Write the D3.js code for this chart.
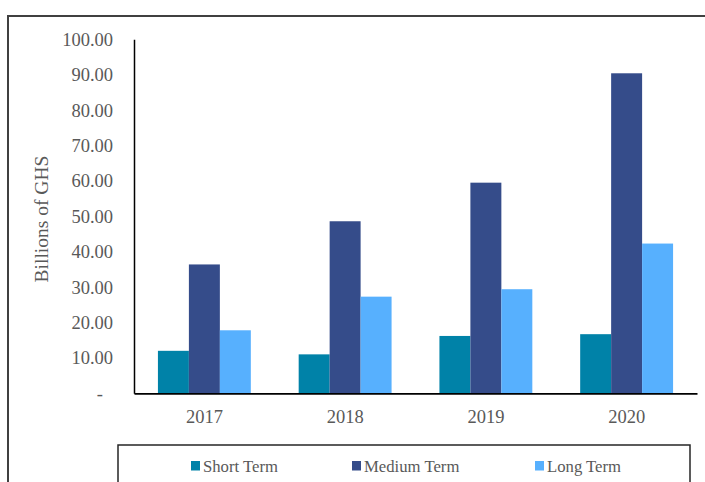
<!DOCTYPE html>
<html><head><meta charset="utf-8">
<script src="https://cdn.jsdelivr.net/npm/d3@7"></script>
<style>body{margin:0;background:#fff;}svg{display:block;}</style>
</head><body>
<svg id="c" width="705" height="482"></svg>
<script>
const categories = ["2017","2018","2019","2020"];
const seriesNames = ["Short Term","Medium Term","Long Term"];
const shortTerm = [12.0, 11.0, 16.2, 16.7];
const mediumTerm = [36.4, 48.6, 59.5, 90.4];
const longTerm = [17.8, 27.3, 29.4, 42.3];
const colors = ["#0082A8","#354C8A","#57B0FE"];
const yTicks = [0,10,20,30,40,50,60,70,80,90,100];

const series = [shortTerm, mediumTerm, longTerm];
const svg = d3.select("#c");
const font = "'Liberation Serif','Times New Roman',serif";
const txt = "#595959";

// outer border
svg.append("path").attr("d","M8,482 L8,16 L705,16").attr("fill","none").attr("stroke","#404040").attr("stroke-width",2);

const x0 = 134, x1 = 697, yTop = 39.3, yBot = 393.3;
const x = d3.scaleBand().domain(categories).range([x0,x1]).paddingInner(0.34).paddingOuter(0.17);
const xs = d3.scaleBand().domain(seriesNames).range([0,x.bandwidth()]);
const y = d3.scaleLinear().domain([0,100]).range([yBot,yTop]);

const g = svg.append("g");
categories.forEach((c,i)=>{
  series.forEach((s,j)=>{
    g.append("rect").attr("x",x(c)+xs(seriesNames[j])).attr("y",y(s[i]))
      .attr("width",xs.bandwidth()).attr("height",yBot-y(s[i])).attr("fill",colors[j]);
  });
});

// y axis
const ya = svg.append("g").attr("transform",`translate(${x0},0)`)
  .call(d3.axisLeft(y).tickValues(yTicks).tickSize(0).tickPadding(21)
    .tickFormat(d=> d===0 ? "-" : d3.format(".2f")(d)));
ya.select(".domain").attr("stroke","#000").attr("stroke-width",1.5);
ya.selectAll("text").style("font-family",font).style("font-size","18.5px").attr("fill",txt)
  .attr("dx", d => d===0 ? -10 : 0);

// x axis
const xa = svg.append("g").attr("transform",`translate(0,${yBot})`)
  .call(d3.axisBottom(x).tickSize(0).tickPadding(17));
xa.select(".domain").attr("stroke","#000").attr("stroke-width",1.8);
xa.selectAll("text").style("font-family",font).style("font-size","18.5px").attr("fill",txt);

// y title
svg.append("text").attr("transform","translate(48,219) rotate(-90)").attr("text-anchor","middle")
  .style("font-family",font).style("font-size","19.5px").attr("fill",txt).text("Billions of GHS");

// legend box
svg.append("path").attr("d","M118,482 L118,445 L690,445 L690,482").attr("fill","none").attr("stroke","#262626").attr("stroke-width",1.5);
const legX = [191, 352, 535];
seriesNames.forEach((n,j)=>{
  svg.append("rect").attr("x",legX[j]).attr("y",461).attr("width",9).attr("height",9.5).attr("fill",colors[j]);
  svg.append("text").attr("x",legX[j]+12).attr("y",472).style("font-family",font).style("font-size","16.7px").attr("fill",txt).text(n);
});
</script>
</body></html>
